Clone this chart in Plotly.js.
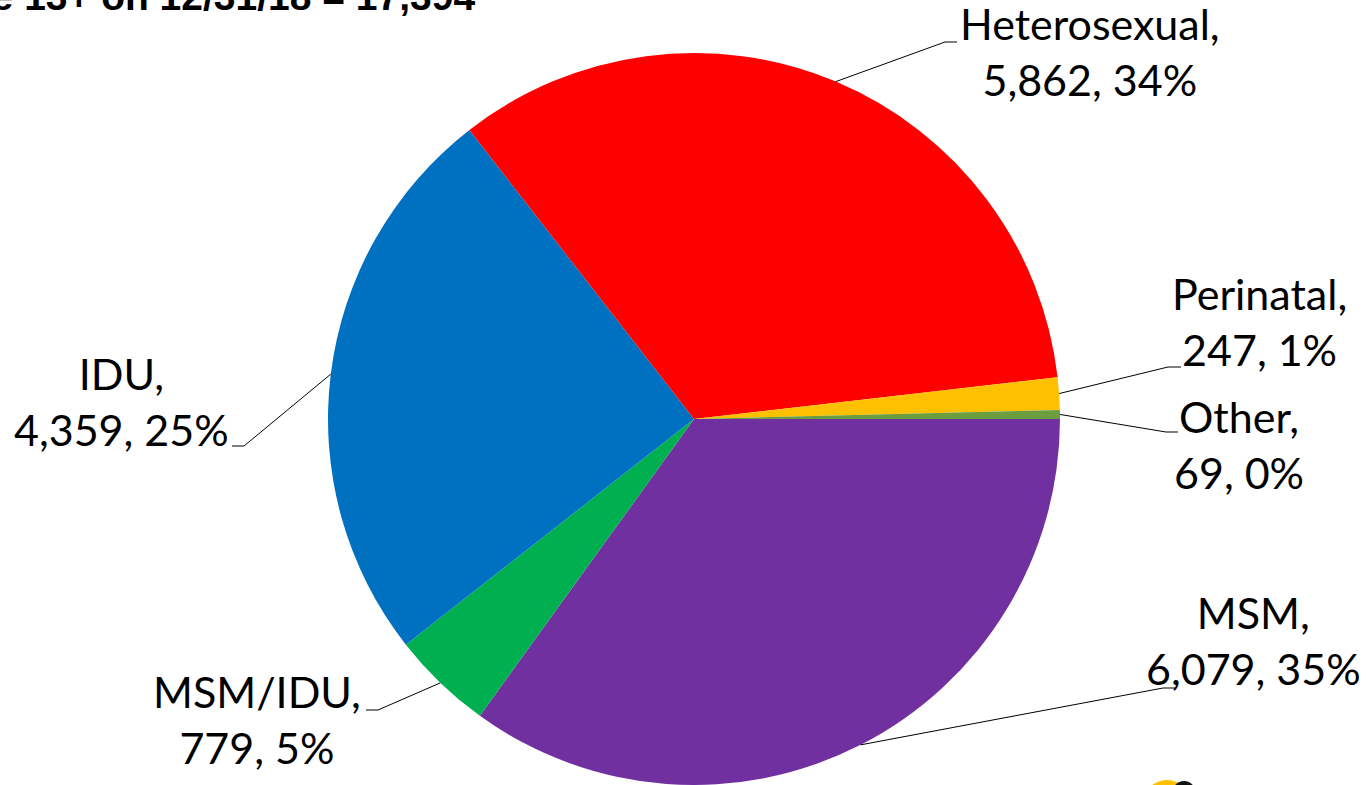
<!DOCTYPE html>
<html>
<head>
<meta charset="utf-8">
<script src="https://cdn.plot.ly/plotly-3.0.1.min.js"></script>
<style>html,body{margin:0;padding:0;background:#fff;}#chart{width:1368px;height:785px;}</style>
</head>
<body>
<div id="chart"></div>
<script>
// Data (clockwise order from 3 o'clock)
const categories = ["MSM", "MSM/IDU", "IDU", "Heterosexual", "Perinatal", "Other"];
const counts = [6079, 779, 4359, 5862, 247, 69];
const percentLabels = ["35%", "5%", "25%", "34%", "1%", "0%"];
const countLabels = ["6,079", "779", "4,359", "5,862", "247", "69"];
const colors = ["#7030A0", "#00B050", "#0070C0", "#FF0000", "#FFC000", "#6A9E3F"];
const titleText = "Persons Living with HIV Age 13+ on 12/31/18 = 17,394";

// Layout geometry (pixels)
const W = 1368, H = 785;
const CX = 694, CY = 419, R = 366;
const labelPos = {
  "MSM":          {tx: 1253, ty: 640, ex: 1163, ey: 688, hx: 1176},
  "MSM/IDU":      {tx: 257,  ty: 719, ex: 378,  ey: 710, hx: 366},
  "IDU":          {tx: 121,  ty: 401, ex: 244,  ey: 446, hx: 232},
  "Heterosexual": {tx: 1090, ty: 52,  ex: 945,  ey: 42,  hx: 957},
  "Perinatal":    {tx: 1259, ty: 321, ex: 1168, ey: 367, hx: 1181},
  "Other":        {tx: 1239, ty: 444, ex: 1166, ey: 432, hx: 1178}
};

const px = x => x / W;
const py = y => 1 - y / H;

const total = counts.reduce((a, b) => a + b, 0);
const shapes = [];
const annotations = [];
let cum = 0;
categories.forEach((c, i) => {
  const mid = (cum + counts[i] / 2) / total * 2 * Math.PI; // clockwise from east
  cum += counts[i];
  const sx = CX + R * Math.cos(mid);
  const sy = CY + R * Math.sin(mid);
  const p = labelPos[c];
  shapes.push({type: "line", xref: "paper", yref: "paper",
    x0: px(sx), y0: py(sy), x1: px(p.ex), y1: py(p.ey),
    line: {color: "#000", width: 1}});
  shapes.push({type: "line", xref: "paper", yref: "paper",
    x0: px(p.ex), y0: py(p.ey), x1: px(p.hx), y1: py(p.ey),
    line: {color: "#000", width: 1}});
  annotations.push({xref: "paper", yref: "paper", x: px(p.tx), y: py(p.ty),
    xanchor: "center", yanchor: "middle", showarrow: false, align: "center",
    text: c + ",<br>" + countLabels[i] + ", " + percentLabels[i],
    font: {family: "Lato, 'Liberation Sans', sans-serif", size: 43, color: "#000"}});
});

annotations.push({xref: "paper", yref: "paper", x: px(477), y: py(20),
  xanchor: "right", yanchor: "bottom", showarrow: false,
  text: "<b>" + titleText + "</b>",
  font: {family: "'Liberation Sans', Arial, sans-serif", size: 39, color: "#000"}});

// small partially visible logo at the bottom edge
shapes.push({type: "circle", xref: "paper", yref: "paper",
  x0: px(1142), x1: px(1192), y0: py(830), y1: py(780),
  fillcolor: "#FFC000", line: {width: 0}});
shapes.push({type: "circle", xref: "paper", yref: "paper",
  x0: px(1172), x1: px(1196), y0: py(806), y1: py(781),
  fillcolor: "#111", line: {width: 0}});

const trace = {
  type: "pie",
  labels: categories,
  values: counts,
  sort: false,
  direction: "clockwise",
  rotation: 90,
  marker: {colors: colors, line: {width: 0}},
  textinfo: "none",
  hoverinfo: "label+value+percent",
  domain: {x: [px(CX - R), px(CX + R)], y: [py(CY + R), py(CY - R)]},
  showlegend: false
};

Plotly.newPlot("chart", [trace], {
  width: W, height: H,
  margin: {l: 0, r: 0, t: 0, b: 0},
  paper_bgcolor: "#fff",
  showlegend: false,
  shapes: shapes,
  annotations: annotations
}, {displayModeBar: false, staticPlot: true});
</script>
</body>
</html>
